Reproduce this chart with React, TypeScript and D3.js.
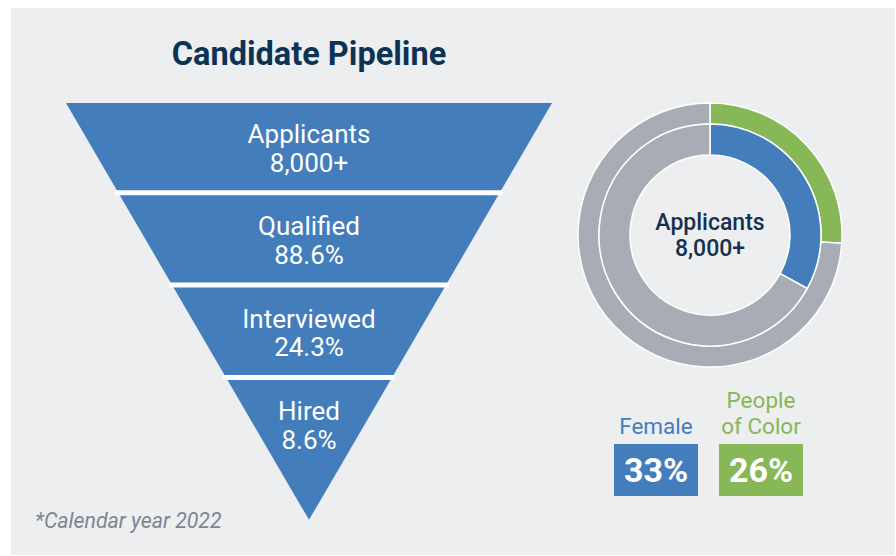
import { useMemo } from "react";
import * as d3 from "d3";

const WIDTH = 896;
const HEIGHT = 556;

// funnel stages
const stageNames = ["Applicants", "Qualified", "Interviewed", "Hired"];
const stageValues = ["8,000+", "88.6%", "24.3%", "8.6%"];

// donut rings (percent of applicants)
const ringNames = ["People of Color", "Female"];
const ringValues = [26, 33];

// legend boxes
const legendLines = [["Female"], ["People", "of Color"]];
const legendValues = ["33%", "26%"];

const BLUE = "#447dbc";
const GREEN = "#87b756";
const GRAY = "#a8adb5";
const BG = "#edeef0";
const NAVY = "#0d3354";
const FONT = "Roboto, 'Noto Sans', sans-serif";

const FUNNEL = { cx: 309, top: 103, apex: 520, halfTop: 243 };
const GAP = 5;

export default function App() {
  const yBand = useMemo(
    () =>
      d3
        .scaleBand<string>()
        .domain(stageNames)
        .range([FUNNEL.top, FUNNEL.top + 4 * 92.3 - GAP])
        .paddingInner(GAP / 92.3)
        .paddingOuter(0),
    []
  );

  // half width of the funnel at a given y
  const halfW = d3
    .scaleLinear()
    .domain([FUNNEL.top, FUNNEL.apex])
    .range([FUNNEL.halfTop, 0]);

  const triangle = d3.line()([
    [FUNNEL.cx - FUNNEL.halfTop, FUNNEL.top],
    [FUNNEL.cx + FUNNEL.halfTop, FUNNEL.top],
    [FUNNEL.cx, FUNNEL.apex],
  ]) + "Z";

  // donut
  const donut = { cx: 710, cy: 235 };
  const rings = [
    { inner: 111, outer: 132, color: GREEN, value: ringValues[0] },
    { inner: 80, outer: 111, color: BLUE, value: ringValues[1] },
  ];
  const pie = d3.pie<number>().sort(null).value((d) => d);

  const legendX = d3
    .scaleBand<number>()
    .domain(d3.range(legendValues.length))
    .range([614, 803])
    .paddingInner(0.2);
  const legendColors = [BLUE, GREEN];

  return (
    <div style={{ position: "absolute", left: 0, top: 0 }}>
      <svg width={WIDTH} height={HEIGHT} style={{ display: "block", fontFamily: FONT }}>
        <rect x={0} y={0} width={WIDTH} height={HEIGHT} fill="#ffffff" />
        <rect x={11} y={8} width={884} height={547} fill={BG} />

        <text
          x={FUNNEL.cx}
          y={65}
          textAnchor="middle"
          fontSize={32.5}
          fontWeight={700}
          fill={NAVY}
        >
          Candidate Pipeline
        </text>

        {/* funnel */}
        <path d={triangle} fill={BLUE} />
        {stageNames.slice(1).map((s) => {
          const y = (yBand(s) as number) - GAP / 2;
          const hw = halfW(y) + 3;
          return (
            <line
              key={s}
              x1={FUNNEL.cx - hw}
              x2={FUNNEL.cx + hw}
              y1={y}
              y2={y}
              stroke="#ffffff"
              strokeWidth={GAP}
            />
          );
        })}
        {/* mask the white lines outside the funnel */}
        <path
          d={`M${FUNNEL.cx - FUNNEL.halfTop - 10},${FUNNEL.top}L${FUNNEL.cx},${FUNNEL.apex}L${FUNNEL.cx - FUNNEL.halfTop - 10},${FUNNEL.apex}Z`}
          fill={BG}
        />
        <path
          d={`M${FUNNEL.cx + FUNNEL.halfTop + 10},${FUNNEL.top}L${FUNNEL.cx},${FUNNEL.apex}L${FUNNEL.cx + FUNNEL.halfTop + 10},${FUNNEL.apex}Z`}
          fill={BG}
        />
        {stageNames.map((s, i) => {
          const c = (yBand(s) as number) + yBand.bandwidth() / 2;
          return (
            <g key={s} fill="#ffffff" fontSize={26} textAnchor="middle">
              <text x={FUNNEL.cx} y={c - 3.5}>
                {s}
              </text>
              <text x={FUNNEL.cx} y={c + 25}>
                {stageValues[i]}
              </text>
            </g>
          );
        })}

        {/* donut */}
        <g transform={`translate(${donut.cx},${donut.cy})`}>
          {rings.map((r, i) => {
            const arc = d3.arc<d3.PieArcDatum<number>>().innerRadius(r.inner).outerRadius(r.outer);
            return pie([r.value, 100 - r.value]).map((d, j) => (
              <path
                key={ringNames[i] + j}
                d={arc(d) || ""}
                fill={j === 0 ? r.color : GRAY}
                stroke="#ffffff"
                strokeWidth={1.5}
              />
            ));
          })}
          <text y={-5} textAnchor="middle" fontSize={23} fontWeight={500} fill="#17304f">
            Applicants
          </text>
          <text y={21} textAnchor="middle" fontSize={23} fontWeight={500} fill="#17304f">
            {stageValues[0]}
          </text>
        </g>

        {/* legend */}
        {legendValues.map((v, i) => {
          const x = legendX(i) as number;
          const w = legendX.bandwidth();
          const lines = legendLines[i];
          return (
            <g key={v}>
              {lines.map((l, k) => (
                <text
                  key={l}
                  x={x + w / 2}
                  y={434 - (lines.length - 1 - k) * 26}
                  textAnchor="middle"
                  fontSize={22.5}
                  fill={legendColors[i]}
                >
                  {l}
                </text>
              ))}
              <rect x={x} y={444} width={w} height={52} fill={legendColors[i]} />
              <text
                x={x + w / 2}
                y={482}
                textAnchor="middle"
                fontSize={34}
                fontWeight={700}
                fill="#ffffff"
              >
                {v}
              </text>
            </g>
          );
        })}

        <text x={35} y={528} fontSize={21.3} fontStyle="italic" fill="#7b8694">
          *Calendar year 2022
        </text>
      </svg>
    </div>
  );
}
